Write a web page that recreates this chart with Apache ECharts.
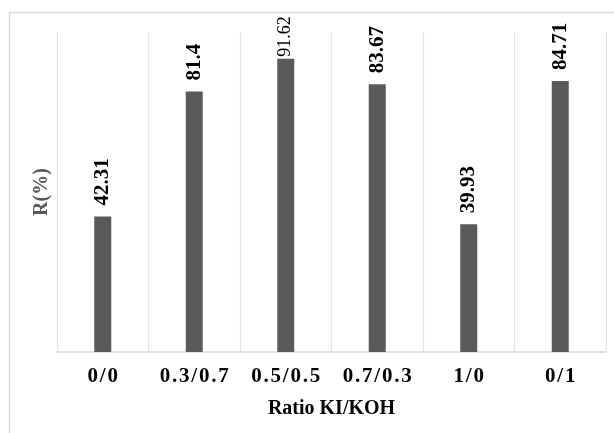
<!DOCTYPE html>
<html>
<head>
<meta charset="utf-8">
<style>
  html, body { margin: 0; padding: 0; background: #ffffff; }
  #chart { width: 614px; height: 433px; }
</style>
<script src="https://cdn.jsdelivr.net/npm/echarts@6/dist/echarts.min.js"></script>
</head>
<body>
<div id="chart"></div>
<script>
// KI/KOH mixing ratios and the removal efficiency R(%) measured for each
const ratios = ['0/0', '0.3/0.7', '0.5/0.5', '0.7/0.3', '1/0', '0/1'];
const removal = [42.31, 81.4, 91.62, 83.67, 39.93, 84.71];

const serif = "'Liberation Serif', 'Times New Roman', serif";

// loose tracking for the category labels
function spaced(s) {
  return s.split('').join('\u200A');
}

const barData = removal.map(function (v, i) {
  const item = { value: v };
  // the tallest bar's label sits close to the frame, set in a lighter face
  if (i === 2) {
    item.label = { fontWeight: 'normal', fontSize: 18, distance: 2 };
  }
  return item;
});

const chart = echarts.init(document.getElementById('chart'), null, { renderer: 'canvas' });

chart.setOption({
  animation: false,
  backgroundColor: '#ffffff',
  graphic: [{
    type: 'rect',
    silent: true,
    shape: { x: 9.5, y: 12.5, width: 700, height: 500 },
    style: { fill: 'none', stroke: '#d9d9d9', lineWidth: 1.5 }
  }],
  grid: { left: 57, right: 8, top: 32, bottom: 81, containLabel: false },
  xAxis: {
    type: 'category',
    data: ratios,
    boundaryGap: true,
    axisLine: { show: true, lineStyle: { color: '#d9d9d9', width: 1.5 } },
    axisTick: { show: false },
    splitLine: { show: true, lineStyle: { color: '#e3e3e3', width: 1.2 } },
    axisLabel: {
      color: '#000000',
      fontFamily: serif,
      fontWeight: 'bold',
      fontSize: 21,
      margin: 14,
      formatter: spaced
    },
    name: 'Ratio KI/KOH',
    nameLocation: 'middle',
    nameGap: 47,
    nameTextStyle: {
      color: '#000000',
      fontFamily: serif,
      fontWeight: 'bold',
      fontSize: 20
    }
  },
  yAxis: {
    type: 'value',
    min: 0,
    max: 100,
    interval: 20,
    axisLine: { show: false },
    axisTick: { show: false },
    axisLabel: { show: false },
    splitLine: { show: false },
    name: 'R(%)',
    nameLocation: 'middle',
    nameGap: 5,
    nameTextStyle: {
      color: '#595959',
      fontFamily: serif,
      fontWeight: 'bold',
      fontSize: 20
    }
  },
  series: [{
    type: 'bar',
    data: barData,
    barWidth: 17,
    itemStyle: { color: '#5a5a5a' },
    label: {
      show: true,
      position: 'top',
      rotate: 90,
      align: 'left',
      verticalAlign: 'middle',
      distance: 11,
      color: '#000000',
      fontFamily: serif,
      fontWeight: 'bold',
      fontSize: 21
    }
  }]
});
</script>
</body>
</html>
